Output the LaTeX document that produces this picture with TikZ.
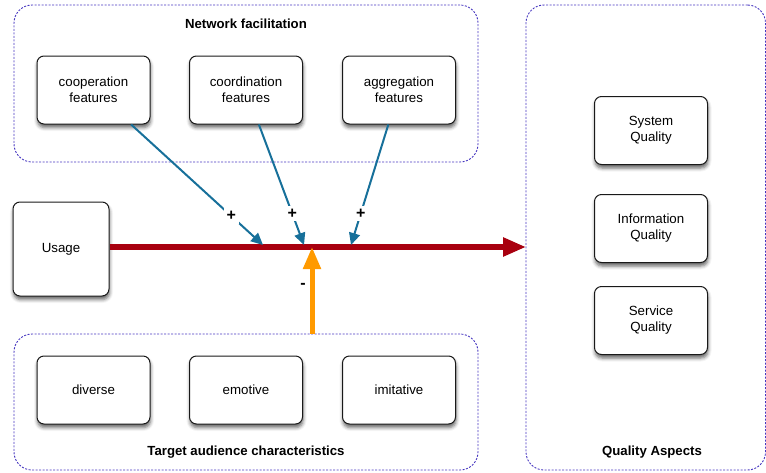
\documentclass[tikz,border=0pt]{standalone}
\usepackage{fontspec}
\setmainfont{Liberation Sans}
\usetikzlibrary{arrows.meta,shadows.blur}

\definecolor{grouprim}{HTML}{4636C0}
\definecolor{linkblue}{HTML}{17709A}
\definecolor{flowred}{HTML}{A8000F}
\definecolor{inhibit}{HTML}{FF9A00}

\tikzset{
  groupbox/.style={draw=grouprim, line width=0.9pt, dash pattern=on 2pt off 1.5pt,
    rounded corners=18pt, inner sep=0pt},
  itembox/.style={draw=black!90, line width=1pt, fill=white, rounded corners=7pt,
    minimum width=113pt, minimum height=68pt, align=center, inner sep=2pt,
    font=\fontsize{13.3}{16}\selectfont,
    blur shadow={shadow xshift=0.5pt, shadow yshift=-3.5pt, shadow blur radius=3.5pt, shadow opacity=60}},
  grouptitle/.style={font=\bfseries\fontsize{13.2}{15}\selectfont},
  influence/.style={draw=linkblue, line width=2pt, -{Triangle[length=12pt,width=11pt]}},
  mainflow/.style={draw=flowred, line width=5.5pt, -{Triangle[length=23pt,width=18pt]}},
  damping/.style={draw=inhibit, line width=5pt, -{Triangle[length=22pt,width=17pt]}},
  sign/.style={font=\bfseries\fontsize{16}{18}\selectfont, inner sep=3pt}
}

\begin{document}
\begin{tikzpicture}[x=1pt, y=-1pt]
  \useasboundingbox (0,0) rectangle (766,472);

  % dashed group frames
  \node[groupbox, minimum width=464pt, minimum height=157pt] (nf) at (246,83.5) {};
  \node[groupbox, minimum width=464pt, minimum height=136pt] (tac) at (246,402) {};
  \node[groupbox, minimum width=239.5pt, minimum height=465pt] (qa) at (645.75,237.5) {};

  \node[grouptitle] (nftitle) at (246,24) {Network facilitation};
  \node[grouptitle] (tactitle) at (246,452) {Target audience characteristics};
  \node[grouptitle] (qatitle) at (652,452) {Quality Aspects};

  % network facilitation features
  \node[itembox] (coop) at (93.5,90) {cooperation\\features};
  \node[itembox] (coord) at (246,90) {coordination\\features};
  \node[itembox] (aggr) at (399,90) {aggregation\\features};

  % target audience characteristics
  \node[itembox] (div) at (93.5,390) {diverse};
  \node[itembox] (emo) at (246,390) {emotive};
  \node[itembox] (imi) at (399,390) {imitative};

  % quality aspects
  \node[itembox] (sys) at (651,130.5) {System\\Quality};
  \node[itembox] (info) at (651,228.5) {Information\\Quality};
  \node[itembox] (serv) at (651,320.5) {Service\\Quality};

  % usage
  \node[itembox, minimum width=96pt, minimum height=94pt] (usage) at (61,249) {Usage};

  % main flow from usage to the quality aspects
  \coordinate (flowend) at (526,247);
  \draw[mainflow] ([yshift=2pt]usage.east) -- (flowend);

  % points where the influences meet the flow
  \coordinate (t1) at (263,245);
  \coordinate (t2) at (304,245);
  \coordinate (t3) at (351,245);
  \coordinate (t4) at (312,247);

  \draw[influence] (coop) -- node[pos=0.76, sign, fill=white] {+} (t1);
  \draw[influence] (coord) -- node[pos=0.74, sign, fill=white] {+} (t2);
  \draw[influence] (aggr) -- node[pos=0.74, sign, fill=white] {+} (t3);

  \draw[damping] (tac.north -| t4) -- (t4);
  \node[sign] (minus) at (303,286) {-};
\end{tikzpicture}
\end{document}
